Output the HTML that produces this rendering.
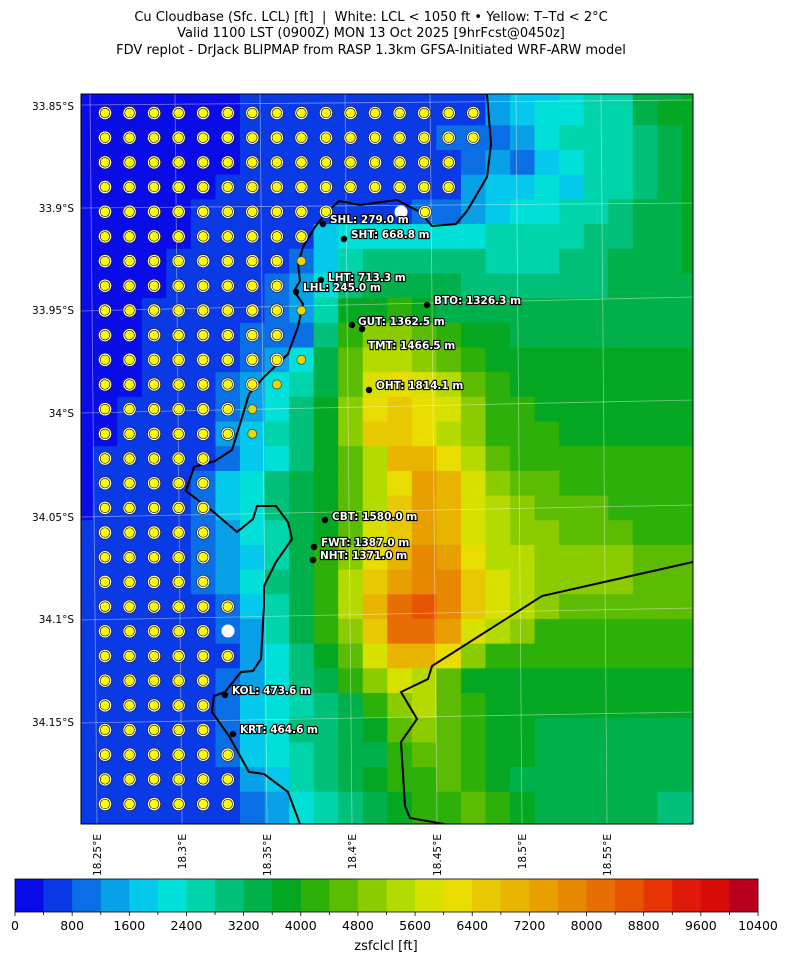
<!DOCTYPE html>
<html><head><meta charset="utf-8"><style>
html,body{margin:0;padding:0;background:#fff;width:790px;height:962px;overflow:hidden}
svg{display:block;font-family:"DejaVu Sans","Liberation Sans",sans-serif}
.lbl{font-size:10.5px;font-weight:bold;fill:#fff;stroke:#000;stroke-width:2.2px;paint-order:stroke;dominant-baseline:central}
.tk{font-size:10.5px;fill:#000}
</style></head><body>
<svg id="s" width="790" height="962" viewBox="0 0 790 962" xmlns="http://www.w3.org/2000/svg">
<text x="371" y="21" text-anchor="middle" font-size="13">Cu Cloudbase (Sfc. LCL) [ft] &#160;| &#160;White: LCL &lt; 1050 ft • Yellow: T–Td &lt; 2°C</text>
<text x="371" y="37" text-anchor="middle" font-size="13">Valid 1100 LST (0900Z) MON 13 Oct 2025 [9hrFcst@0450z]</text>
<text x="371" y="54" text-anchor="middle" font-size="13">FDV replot - DrJack BLIPMAP from RASP 1.3km GFSA-Initiated WRF-ARW model</text>
<defs><clipPath id="cp"><rect x="81" y="94" width="612" height="730"/></clipPath></defs>
<g id="cells" clip-path="url(#cp)"></g>
<g clip-path="url(#cp)" stroke="#fff" stroke-opacity="0.45" stroke-width="0.8" fill="none">
<path d="M81 105 L693 100"/><path d="M81 208 L693 203"/><path d="M81 311 L693 297"/><path d="M81 413 L693 400"/><path d="M81 517 L693 505"/><path d="M81 620 L693 608"/><path d="M81 723 L693 712"/>
<path d="M90 94 L97 824"/><path d="M175 94 L182 824"/><path d="M260 94 L267 824"/><path d="M345 94 L352 824"/><path d="M430 94 L437 824"/><path d="M516 94 L522 824"/><path d="M601 94 L607 824"/>
</g>
<g clip-path="url(#cp)" fill="none" stroke="#000" stroke-width="2">
<path d="M487 94 L491 144 L487 177 L467 211 L456 224 L432 226 L420 212 L397 200 L360 205 L339 201 L325 214 L315 227 L303 247 L298 264 L300 281 L294 291 L303 304 L298 327 L288 354 L264 377 L249 394 L241 421 L232 450 L215 461 L194 467 L186 491 L210 509 L237 532 L253 519 L257 506 L276 506 L288 522 L292 539 L276 562 L264 586 L264 606 L261 659 L253 671 L241 672 L225 692 L214 696 L212 712 L229 736 L249 772 L264 774 L288 792 L300 824"/>
<path d="M693 562 L542 596 L432 666 L428 679 L401 692 L417 719 L401 742 L405 806 L410 818 L444 824"/>
</g>
<g id="dots"></g>
<rect x="81" y="94" width="612" height="730" fill="none" stroke="#000" stroke-width="1"/>
<g id="stn"></g>
<g class="tk" text-anchor="end">
<text x="74" y="110">33.85°S</text><text x="74" y="212">33.9°S</text><text x="74" y="314">33.95°S</text><text x="74" y="417">34°S</text><text x="74" y="521">34.05°S</text><text x="74" y="623">34.1°S</text><text x="74" y="726">34.15°S</text>
</g>
<g class="tk" id="xt"></g>
<g id="cb"></g>
<text x="386" y="950" text-anchor="middle" font-size="13">zsfclcl [ft]</text>
</svg>
<script>
var C=["#0a0ce8","#0a3ae6","#0a6ee4","#08a0e6","#04c8ec","#00e0d8","#00d4aa","#00c07a","#00b04a","#04a822","#2eb00a","#5cbc04","#8acc00","#b4da00","#d8e000","#e8dc00","#e8c800","#e8b400","#e8a000","#e88800","#e86e04","#e85404","#e83404","#e01a0a","#d80a0a","#b8001e"];
var R=[
"00000001111111111344566889999a",
"00000001111111111345566899999aaa",
"000000011111111222356667899999a",
"00000001111111112324566789999a",
"0000001111111111344546678999999",
"000001111111112234556678899999",
"000001111145555556666778899999",
"000011111246777776667788899999",
"000011112357888877777788889999",
"0001111123699a9888888888888899",
"00011112227accba99888888888888",
"00011112358bddcba9999999999999",
"00011123568befedba999999999999",
"00111123579cfgfecaa99999999999",
"00111134679cggfdcaaa9999999999",
"01111124579bdhhfdbaaaaaaaaaaaa",
"01111245789bdfihecbbaaaaaaaaaa",
"01111245789bdgihedcbbbaaaaaaaa",
"11111235689begihedccbbbaaaaaaa",
"1111123468acfhjifddccccbbbbbbb",
"1111123578adgijjgedccccbbbbbbb",
"1111112468adhkljgedcbbbbbbbbbb",
"1111112368acgkkiedcaaaaaaaaaaa",
"11111113579behhfcaaaaaaaaaaaaa",
"11111123578acedb99999999999999",
"111111245678acdba9999999999999",
"1111112457789bcba9988888888888",
"1111112456788abba9988888888888",
"1111111346789aaba9888888888888",
"11111112356789aaba988888777777",
"11111112356789aaba988888777777"];
function lv(ch){var n=parseInt(ch,36);return isNaN(n)?0:Math.min(n,25);}
var h="";
for(var r=0;r<31;r++){var s=R[r];for(var k=0;k<26;k++){var ch=s[k]||s[s.length-1];
h+='<rect x="'+(68.15+24.55*k).toFixed(2)+'" y="'+(76+24.68*r).toFixed(2)+'" width="25.1" height="25.2" fill="'+C[lv(ch)]+'"/>';}}
document.getElementById("cells").innerHTML=h;
var D=[15,15,14,14,9,8,8,7,8,7,8,7,6,6,4,4,4,4,4,4,5,4,5,4,4,4,5,5,5];
var d="";
function dot(x,y,rr){d+='<circle cx="'+x+'" cy="'+y+'" r="'+(rr+1.8)+'" fill="#fff" stroke="#222" stroke-width="0.7"/><circle cx="'+x+'" cy="'+y+'" r="'+rr+'" fill="#ffff00" stroke="#000" stroke-width="0.6"/>';}
for(var i=0;i<D.length;i++){for(var j=0;j<=D[i];j++){var x=105+24.55*j,y=113+24.68*i;
if(i==21&&j==5)continue;
var small=(i==6&&j==8)||(i==8&&j==8)||(i==10&&j==8)||(i==11&&j==7)||(i==12&&j==6)||(i==13&&j==6);
if(small){d+='<circle cx="'+x+'" cy="'+y+'" r="4.5" fill="#e8d800" stroke="#333" stroke-width="0.6"/>';}else dot(x,y,4.8);}}
dot(425,212,4.8);
d+='<circle cx="401" cy="212" r="6.5" fill="#fff"/><circle cx="228" cy="631" r="6.5" fill="#fff"/>';
document.getElementById("dots").innerHTML=d;
var S=[[323,224,330,220,"SHL: 279.0 m"],[344,239,351,235,"SHT: 668.8 m"],[321,280,328,278,"LHT: 713.3 m"],[296,292,303,288,"LHL: 245.0 m"],[427,305,434,301,"BTO: 1326.3 m"],[352,325,358,322,"GUT: 1362.5 m"],[362,329,368,346,"TMT: 1466.5 m"],[369,390,376,386,"OHT: 1814.1 m"],[325,520,332,517,"CBT: 1580.0 m"],[314,547,321,543,"FWT: 1387.0 m"],[313,560,320,556,"NHT: 1371.0 m"],[225,695,232,691,"KOL: 473.6 m"],[233,734,240,730,"KRT: 464.6 m"]];
var t="";S.forEach(function(a){t+='<circle cx="'+a[0]+'" cy="'+a[1]+'" r="3.2" fill="#000"/><text class="lbl" x="'+a[2]+'" y="'+a[3]+'">'+a[4]+'</text>';});
document.getElementById("stn").innerHTML=t;
var X=[[97,"18.25°E"],[182,"18.3°E"],[267,"18.35°E"],[352,"18.4°E"],[437,"18.45°E"],[522,"18.5°E"],[607,"18.55°E"]],xt="";
X.forEach(function(a){xt+='<text text-anchor="end" transform="translate('+(a[0]+4)+',834) rotate(-90)">'+a[1]+'</text>';});
document.getElementById("xt").innerHTML=xt;
var cb="",w=(758-15)/26;
for(var k=0;k<26;k++)cb+='<rect x="'+(15+w*k).toFixed(2)+'" y="879" width="'+(w+0.4).toFixed(2)+'" height="33" fill="'+C[k]+'"/>';
cb+='<rect x="15" y="879" width="743" height="33" fill="none" stroke="#000" stroke-width="0.8"/>';
for(var k=0;k<=26;k++){var x=15+w*k;cb+='<line x1="'+x+'" y1="912" x2="'+x+'" y2="'+(k%2?915:916)+'" stroke="#000" stroke-width="0.8"/>';
if(k%2==0)cb+='<text x="'+x+'" y="930" text-anchor="middle" font-size="12.5">'+(k*400)+'</text>';}
document.getElementById("cb").innerHTML=cb;
</script>
</body></html>
